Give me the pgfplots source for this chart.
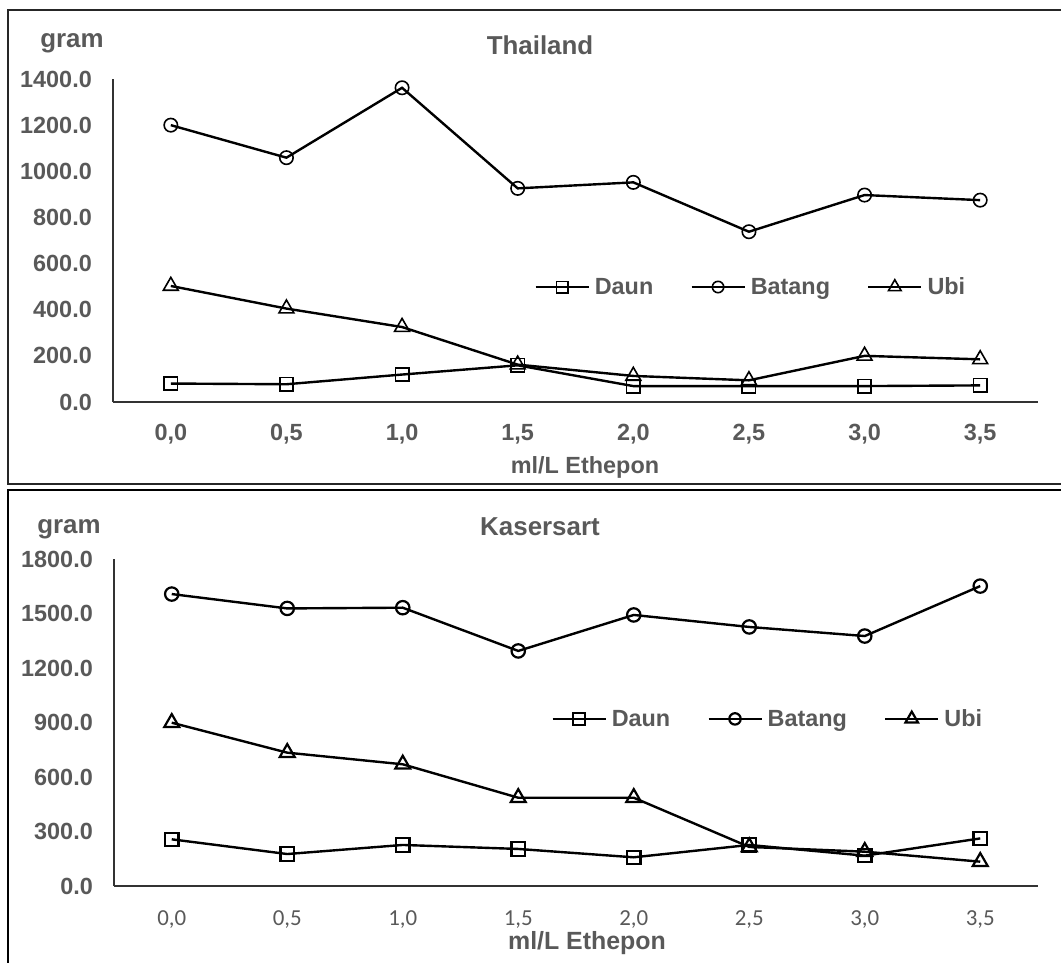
\documentclass[border=0pt]{standalone}
\usepackage{pgfplots}
\pgfplotsset{compat=1.18}
\usepackage{fontspec}
\setmainfont{Liberation Sans}
\newfontfamily\calibri{Carlito}
\definecolor{txt}{HTML}{595959}

\pgfplotstableread{
x Daun Batang Ubi
0 80 1200 503
1 77 1059 405
2 119 1362 325
3 159 926 162
4 69 952 113
5 69 738 94
6 69 897 200
7 72 875 185
}\thailand

\pgfplotstableread{
x Daun Batang Ubi
0 257 1607 899
1 176 1528 734
2 226 1532 670
3 204 1294 486
4 158 1492 486
5 226 1426 215
6 167 1376 189
7 262 1651 134
}\kasersart

\pgfplotsset{
  common/.style={
    scale only axis,
    anchor=south west,
    xmin=-0.5, xmax=7.5, ymin=0,
    xtick={0,...,7},
    xticklabels={{0,0},{0,5},{1,0},{1,5},{2,0},{2,5},{3,0},{3,5}},
    axis x line=bottom, axis y line=left,
    axis line style={-, line width=1.3bp, color=black!80},
    major tick length=0pt,
    yticklabel style={anchor=east, inner sep=0pt, xshift=-21bp,
      font=\fontsize{23.5}{28}\selectfont\bfseries, text=txt},
    /pgf/number format/.cd, fixed, fixed zerofill, precision=1, 1000 sep={}, assume math mode=true,
    /pgfplots/.cd,
    legend columns=3,
    legend style={draw=none, fill=none, anchor=center,
      font=\fontsize{23.5}{28}\selectfont\bfseries, text=txt,
      nodes={inner sep=1bp},
      /tikz/every odd column/.append style={column sep=4bp},
      /tikz/every even column/.append style={column sep=36bp}},
    legend image code/.code={\draw[mark repeat=2,mark phase=2,mark size=0.85\pgfplotmarksize] plot coordinates {(0bp,0bp) (26.5bp,0bp) (53bp,0bp)};},
  },
  ser/.style={black, line width=2.4bp, mark options={solid, line width=#1, fill=none}},
}

\begin{document}
\begin{tikzpicture}
\useasboundingbox (0,0) rectangle (1061bp,-963bp);
% frames
\draw[line width=1.5bp, black!85] (1075bp,-10bp) -- (8bp,-10bp) -- (8bp,-484bp) -- (1075bp,-484bp);
\draw[line width=2bp, black] (1075bp,-490bp) -- (8bp,-490bp) -- (8bp,-975bp);

% ---------- Thailand ----------
\begin{axis}[common,
  at={(113bp,-402bp)}, width=925bp, height=323bp,
  ymax=1400, ytick={0,200,...,1400},
  xticklabel style={anchor=base, inner sep=0pt, yshift=-38.5bp,
    font=\fontsize{23.5}{28}\selectfont\bfseries, text=txt},
  legend style={at={(0.689,0.356)}},
]
\addplot[ser=1.6bp, mark=square, mark size=6.7bp] table[x=x,y=Daun]{\thailand};
\addlegendentry{Daun}
\addplot[ser=1.6bp, mark=o, mark size=6.7bp] table[x=x,y=Batang]{\thailand};
\addlegendentry{Batang}
\addplot[ser=1.6bp, mark=triangle, mark size=8.6bp] table[x=x,y=Ubi]{\thailand};
\addlegendentry{Ubi}
\end{axis}
\node[font=\fontsize{26}{30}\selectfont\bfseries, text=txt] at (540bp,-45bp) {Thailand};
\node[font=\fontsize{26}{30}\selectfont\bfseries, text=txt] at (72bp,-43bp) {gram};
\node[font=\fontsize{23.5}{28}\selectfont\bfseries, text=txt] at (585bp,-467bp) {ml/L Ethepon};

% ---------- Kasersart ----------
\begin{axis}[common,
  at={(114bp,-886bp)}, width=924bp, height=327bp,
  ymax=1800, ytick={0,300,...,1800},
  xticklabel style={anchor=base, inner sep=0pt, yshift=-39.4bp,
    font=\calibri\fontsize{23}{28}\selectfont, text=txt},
  legend style={at={(0.707,0.511)}},
]
\addplot[ser=2.2bp, mark=square, mark size=6.7bp] table[x=x,y=Daun]{\kasersart};
\addlegendentry{Daun}
\addplot[ser=2.2bp, mark=o, mark size=6.7bp] table[x=x,y=Batang]{\kasersart};
\addlegendentry{Batang}
\addplot[ser=2.2bp, mark=triangle, mark size=8.6bp] table[x=x,y=Ubi]{\kasersart};
\addlegendentry{Ubi}
\end{axis}
\node[font=\fontsize{26}{30}\selectfont\bfseries, text=txt] at (540bp,-527bp) {Kasersart};
\node[font=\fontsize{26}{30}\selectfont\bfseries, text=txt] at (69bp,-529bp) {gram};
\node[font=\fontsize{25}{30}\selectfont\bfseries, text=txt] at (587bp,-943bp) {ml/L Ethepon};
\end{tikzpicture}
\end{document}
